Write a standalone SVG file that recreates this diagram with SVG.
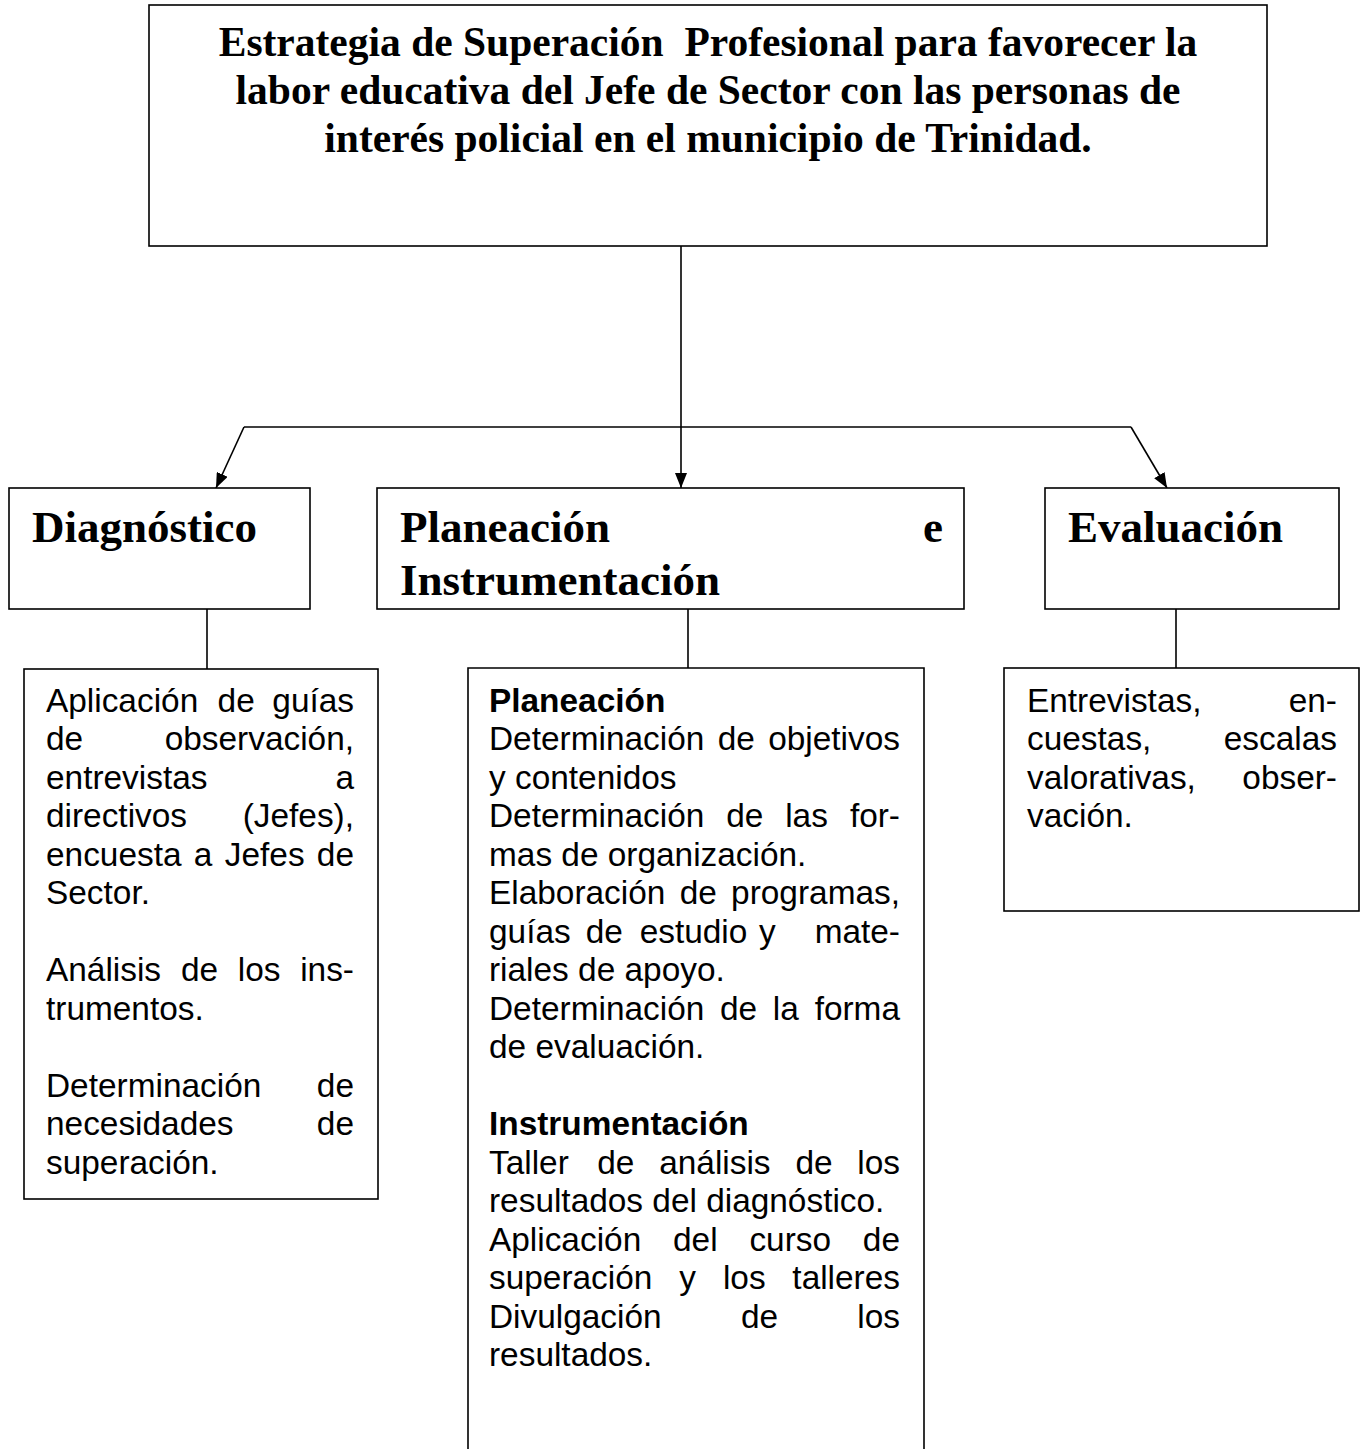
<svg xmlns="http://www.w3.org/2000/svg" width="1363" height="1449" viewBox="0 0 1363 1449">
<style>
.box{fill:#fff;stroke:#000;stroke-width:1.6}
.ln{fill:none;stroke:#000;stroke-width:1.6}
.title{font-family:"Liberation Serif","Times New Roman",serif;font-weight:bold;font-size:41.5px;fill:#000}
.head{font-family:"Liberation Serif","Times New Roman",serif;font-weight:bold;font-size:45px;fill:#000}
.t{font-family:"Liberation Sans",Arial,sans-serif;font-size:33.4px;fill:#000}
.b{font-weight:bold}
.e{text-anchor:end}
</style>
<defs>
<marker id="arr" markerWidth="15" markerHeight="12" refX="15" refY="6" orient="auto" markerUnits="userSpaceOnUse">
<path d="M0,0 L15,6 L0,12 Z" fill="#000"/>
</marker>
</defs>
<rect width="1363" height="1449" fill="#fff"/>

<g id="connectors">
<line class="ln" x1="681" y1="246" x2="681" y2="488" marker-end="url(#arr)"/>
<line class="ln" x1="244" y1="427" x2="1131" y2="427"/>
<line class="ln" x1="244" y1="427" x2="216" y2="488" marker-end="url(#arr)"/>
<line class="ln" x1="1131" y1="427" x2="1167" y2="488" marker-end="url(#arr)"/>
<line class="ln" x1="207" y1="609" x2="207" y2="669"/>
<line class="ln" x1="688" y1="609" x2="688" y2="668"/>
<line class="ln" x1="1176" y1="609" x2="1176" y2="668"/>
</g>

<g id="title">
<rect class="box" x="149" y="5" width="1118" height="241"/>
<text class="title" x="708" y="56" text-anchor="middle" xml:space="preserve">Estrategia de Superación  Profesional para favorecer la</text>
<text class="title" x="708" y="104" text-anchor="middle">labor educativa del Jefe de Sector con las personas de</text>
<text class="title" x="708" y="152" text-anchor="middle">interés policial en el municipio de Trinidad.</text>
</g>

<g id="diagnostico">
<rect class="box" x="9" y="488" width="301" height="121"/>
<text class="head" x="32" y="542">Diagnóstico</text>
</g>

<g id="planeacion">
<rect class="box" x="377" y="488" width="587" height="121"/>
<text class="head" x="400" y="542">Planeación</text>
<text class="head e" x="943" y="542">e</text>
<text class="head" x="400" y="595">Instrumentación</text>
</g>

<g id="evaluacion">
<rect class="box" x="1045" y="488" width="294" height="121"/>
<text class="head" x="1068" y="542">Evaluación</text>
</g>

<g id="diagnostico-detalle">
<rect class="box" x="24" y="669" width="354" height="530"/>
<text class="t" y="711.5"><tspan x="46">Aplicación</tspan><tspan x="217.6">de</tspan></text>
<text class="t e" x="354" y="711.5">guías</text>
<text class="t" x="46" y="750">de</text>
<text class="t e" x="354" y="750">observación,</text>
<text class="t" x="46" y="788.5">entrevistas</text>
<text class="t e" x="354" y="788.5">a</text>
<text class="t" x="46" y="827">directivos</text>
<text class="t e" x="354" y="827">(Jefes),</text>
<text class="t" y="865.5"><tspan x="46">encuesta</tspan><tspan x="193.8">a</tspan><tspan x="224.8">Jefes</tspan></text>
<text class="t e" x="354" y="865.5">de</text>
<text class="t" x="46" y="904">Sector.</text>
<text class="t" y="981"><tspan x="46">Análisis</tspan><tspan x="180.9">de</tspan><tspan x="237.8">los</tspan></text>
<text class="t e" x="354" y="981">ins-</text>
<text class="t" x="46" y="1019.5">trumentos.</text>
<text class="t" x="46" y="1096.5">Determinación</text>
<text class="t e" x="354" y="1096.5">de</text>
<text class="t" x="46" y="1135">necesidades</text>
<text class="t e" x="354" y="1135">de</text>
<text class="t" x="46" y="1173.5">superación.</text>
</g>

<g id="planeacion-detalle">
<path class="ln" d="M468,1450 V668 H924 V1450"/>
<text class="t b" x="489" y="711.5">Planeación</text>
<text class="t" y="750"><tspan x="489">Determinación</tspan><tspan x="717.7">de</tspan></text>
<text class="t e" x="900" y="750">objetivos</text>
<text class="t" x="489" y="788.5">y contenidos</text>
<text class="t" y="827"><tspan x="489">Determinación</tspan><tspan x="726.2">de</tspan><tspan x="785.2">las</tspan></text>
<text class="t e" x="900" y="827">for-</text>
<text class="t" x="489" y="865.5">mas de organización.</text>
<text class="t" y="904"><tspan x="489">Elaboración</tspan><tspan x="679.7">de</tspan></text>
<text class="t e" x="900" y="904">programas,</text>
<text class="t" y="942.5"><tspan x="489">guías</tspan><tspan x="585.7">de</tspan><tspan x="639.7">estudio</tspan><tspan x="759">y</tspan></text>
<text class="t e" x="900" y="942.5">mate-</text>
<text class="t" x="489" y="981">riales de apoyo.</text>
<text class="t" y="1019.5"><tspan x="489">Determinación</tspan><tspan x="720">de</tspan><tspan x="772.8">la</tspan></text>
<text class="t e" x="900" y="1019.5">forma</text>
<text class="t" x="489" y="1058">de evaluación.</text>
<text class="t b" x="489" y="1135">Instrumentación</text>
<text class="t" y="1173.5"><tspan x="489">Taller</tspan><tspan x="597.3">de</tspan><tspan x="659.2">análisis</tspan><tspan x="795.4">de</tspan></text>
<text class="t e" x="900" y="1173.5">los</text>
<text class="t" x="489" y="1212">resultados del diagnóstico.</text>
<text class="t" y="1250.5"><tspan x="489">Aplicación</tspan><tspan x="673">del</tspan><tspan x="749.4">curso</tspan></text>
<text class="t e" x="900" y="1250.5">de</text>
<text class="t" y="1289"><tspan x="489">superación</tspan><tspan x="679.3">y</tspan><tspan x="722.9">los</tspan></text>
<text class="t e" x="900" y="1289">talleres</text>
<text class="t" y="1327.5"><tspan x="489">Divulgación</tspan><tspan x="740.9">de</tspan></text>
<text class="t e" x="900" y="1327.5">los</text>
<text class="t" x="489" y="1366">resultados.</text>
</g>

<g id="evaluacion-detalle">
<rect class="box" x="1004" y="668" width="355" height="243"/>
<text class="t" x="1027" y="711.5">Entrevistas,</text>
<text class="t e" x="1337" y="711.5">en-</text>
<text class="t" x="1027" y="750">cuestas,</text>
<text class="t e" x="1337" y="750">escalas</text>
<text class="t" x="1027" y="788.5">valorativas,</text>
<text class="t e" x="1337" y="788.5">obser-</text>
<text class="t" x="1027" y="827">vación.</text>
</g>
</svg>
